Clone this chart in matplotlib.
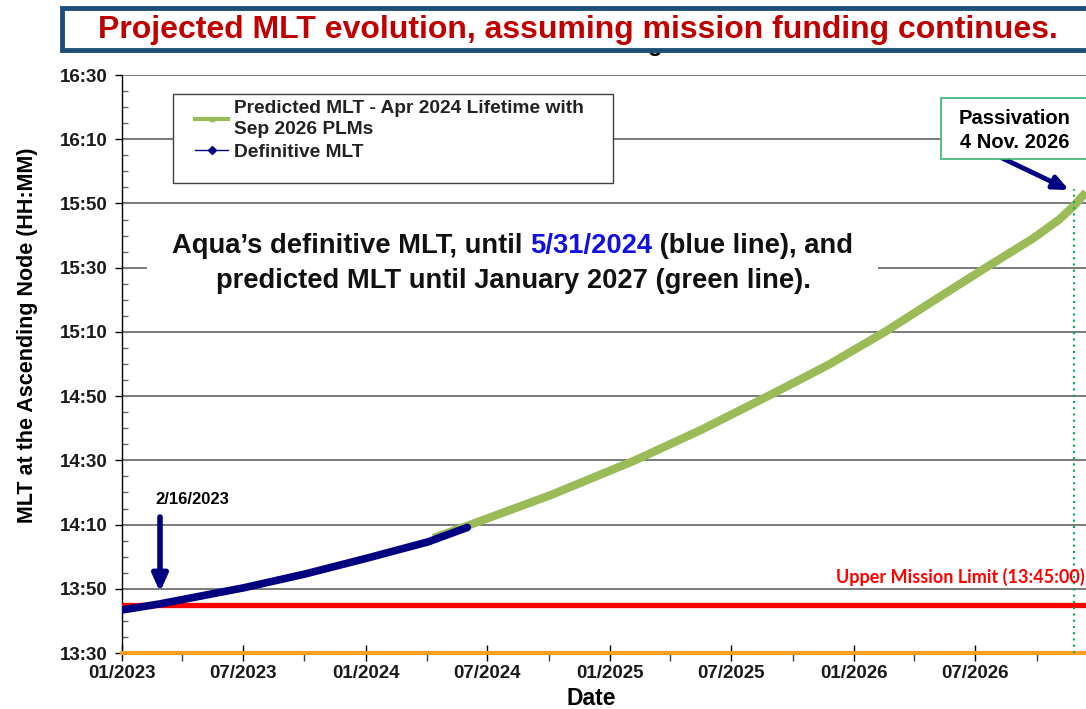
import matplotlib
matplotlib.use('Agg')
import matplotlib.pyplot as plt
import matplotlib.dates as mdates
import matplotlib.ticker as mticker
from matplotlib.lines import Line2D
from matplotlib.patches import Rectangle
import pandas as pd

# MLT values in minutes after midnight
blue_dates = ['2023-01-01', '2023-02-27', '2023-07-02', '2023-10-02', '2024-01-02', '2024-04-03', '2024-06-01']
blue_mlt = [823.4, 825.3, 830.3, 834.6, 839.5, 844.6, 849.1]

green_dates = ['2024-04-11', '2024-06-06', '2024-10-04', '2025-02-07', '2025-05-17', '2025-08-25', '2025-11-23',
               '2026-02-16', '2026-05-02', '2026-07-17', '2026-09-25', '2026-11-04', '2026-11-26', '2026-12-14']
green_mlt = [845.8, 850.0, 859.2, 870.0, 879.5, 890.0, 899.7, 910.0, 920.0, 930.0, 939.0, 945.0, 949.3, 953.5]

upper_limit = 825.0       # 13:45:00
passivation_date = '2026-11-26'
passivation_top = 954.6
x_start, x_end = '2023-01-01', '2026-12-14'
y_min, y_max = 810, 990   # 13:30 .. 16:30

W, H = 1086, 709
def fx(px):
    return px / W
def fy(py):
    return 1 - py / H

BOLD = ['Liberation Sans', 'DejaVu Sans']

fig = plt.figure(figsize=(W / 100, H / 100), dpi=100)
ax = fig.add_axes([fx(122), fy(653), fx(1086) - fx(122), fy(75) - fy(653)])

bd = pd.to_datetime(blue_dates)
gd = pd.to_datetime(green_dates)

ax.set_axisbelow(True)
ax.grid(axis='y', which='major', color='#707070', lw=1.3)
ax.plot(gd, green_mlt, color='#9BBB59', lw=6, solid_capstyle='butt', solid_joinstyle='round', zorder=4)
ax.plot(bd, blue_mlt, color='#000080', lw=5.5, solid_capstyle='round', solid_joinstyle='round', zorder=5)
ax.axhline(upper_limit, color='#FF0000', lw=3.8, zorder=3)
pdate = pd.to_datetime(passivation_date)
ax.plot([pdate, pdate], [y_min, passivation_top], color='#00B050', lw=1.5, ls=(0, (1, 2)), zorder=6, clip_on=False)

ax.set_xlim(pd.to_datetime(x_start), pd.to_datetime(x_end))
ax.set_ylim(y_min, y_max)

ax.yaxis.set_major_locator(mticker.FixedLocator(range(y_min, y_max + 1, 20)))
ax.yaxis.set_minor_locator(mticker.FixedLocator(range(y_min, y_max + 1, 5)))
ax.yaxis.set_major_formatter(mticker.FuncFormatter(lambda v, p: '%d:%02d' % (v // 60, v % 60)))
ax.xaxis.set_major_locator(mdates.MonthLocator(bymonth=[1, 7]))
ax.xaxis.set_minor_locator(mdates.MonthLocator(bymonth=[4, 10]))
ax.xaxis.set_major_formatter(mdates.DateFormatter('%m/%Y'))

for s in ['top', 'right']:
    ax.spines[s].set_visible(False)
ax.spines['left'].set_color('#000000')
ax.spines['left'].set_linewidth(1.0)
ax.spines['bottom'].set_color('#FFA020')
ax.spines['bottom'].set_linewidth(3)
ax.tick_params(axis='y', which='major', direction='out', length=5, width=1, pad=5)
ax.tick_params(axis='y', which='minor', direction='in', length=4, width=1, color='#606060')
ax.tick_params(axis='x', which='major', direction='inout', length=11, width=1, pad=3)
ax.tick_params(axis='x', which='minor', direction='out', length=6, width=1, color='#404040')
for lab in ax.get_xticklabels() + ax.get_yticklabels():
    lab.set_family(BOLD)
    lab.set_fontweight('bold')
    lab.set_fontsize(13.5)
    lab.set_color('#1a1a1a')
ax.set_xlabel('Date', family=BOLD, fontweight='bold', fontsize=16.5)
ax.xaxis.set_label_coords(0.4865, -0.058)
ax.set_ylabel('MLT at the Ascending Node (HH:MM)', family=BOLD, fontweight='bold', fontsize=15.5)
ax.yaxis.set_label_coords(-0.087, 0.55)

# title banner (the tail of a hidden heading peeks out below it)
fig.text(fx(655), fy(44), 'g', family=BOLD, fontweight='bold', fontsize=17, ha='center', va='center', zorder=0.5)
fig.patches.append(Rectangle((fx(62), fy(50)), fx(1100) - fx(62), fy(8) - fy(50), transform=fig.transFigure,
                             facecolor='white', edgecolor='#1F4E79', lw=3.5, zorder=1))
fig.text(fx(578), fy(30), 'Projected MLT evolution, assuming mission funding continues.', family=BOLD,
         fontweight='bold', fontsize=23, color='#C00000', ha='center', va='center', zorder=3)

# legend box
ax.add_patch(Rectangle((fx(173), fy(183)), fx(613) - fx(173), fy(94) - fy(183), transform=fig.transFigure,
                       facecolor='white', edgecolor='#404040', lw=1, zorder=7))
handles = [Line2D([], [], color='#9BBB59', lw=3, marker='^', ms=3),
           Line2D([], [], color='#000080', lw=1, marker='D', ms=4)]
leg = ax.legend(handles, ['Predicted MLT - Apr 2024 Lifetime with\nSep 2026 PLMs', 'Definitive MLT'],
                loc='upper left', bbox_to_anchor=(fx(191), fy(96)), bbox_transform=fig.transFigure,
                frameon=False, prop={'family': BOLD, 'weight': 'bold', 'size': 13.8},
                handlelength=1.75, handletextpad=0.3, labelspacing=0.3, borderaxespad=0, borderpad=0.2)
leg.set_zorder(8)
for t in leg.get_texts():
    t.set_color('#222222')
    t.set_linespacing(1.3)

# explanation text
ax.add_patch(Rectangle((fx(147), fy(300)), fx(878) - fx(147), fy(228) - fy(300), transform=fig.transFigure,
                       facecolor='white', edgecolor='none', zorder=7))
t1 = fig.text(fx(172), fy(246), 'Aqua\u2019s definitive MLT, until ', family=BOLD, fontweight='bold',
              fontsize=19.7, color='#111111', ha='left', va='center', zorder=9)
t2 = ax.annotate('5/31/2024', xy=(1, 0), xycoords=t1, va='bottom', family=BOLD, fontweight='bold',
                 fontsize=19.7, color='#1010E0', zorder=9)
ax.annotate(' (blue line), and', xy=(1, 0), xycoords=t2, va='bottom', family=BOLD, fontweight='bold',
            fontsize=19.7, color='#111111', zorder=9)
fig.text(fx(514), fy(281), 'predicted MLT until January 2027 (green line).', family=BOLD, fontweight='bold',
         fontsize=19.7, color='#111111', ha='center', va='center', zorder=9)

# 2/16/2023 annotation
fig.text(fx(192), fy(499), '2/16/2023', family=BOLD, fontweight='bold', fontsize=12, ha='center', va='center')
ax.annotate('', xy=(fx(160), fy(592)), xytext=(fx(160), fy(517)), xycoords='figure fraction',
            arrowprops=dict(arrowstyle='-|>,head_width=0.45,head_length=1.0', color='#000080', lw=4,
                            shrinkA=0, shrinkB=0))

# passivation box
fig.patches.append(Rectangle((fx(941), fy(159)), fx(1100) - fx(941), fy(98) - fy(159), transform=fig.transFigure,
                             facecolor='white', edgecolor='#3CB371', lw=1.2, zorder=2))
fig.text(fx(1015), fy(118), 'Passivation', family=BOLD, fontweight='bold', fontsize=14.5,
         ha='center', va='center', zorder=9)
fig.text(fx(1015), fy(142), '4 Nov. 2026', family=BOLD, fontweight='bold', fontsize=14.5,
         ha='center', va='center', zorder=9)
ax.annotate('', xy=(fx(1069), fy(190)), xytext=(fx(1002), fy(158)), xycoords='figure fraction',
            arrowprops=dict(arrowstyle='-|>,head_width=0.4,head_length=0.9', color='#000080', lw=3.5,
                            shrinkA=0, shrinkB=0))

# mission limit label
fig.text(fx(1085), fy(577), 'Upper Mission Limit (13:45:00)', family=['Lato', 'DejaVu Sans'], fontweight='bold',
         fontsize=13, color='#FF0000', ha='right', va='center')

fig.savefig('out.png', dpi=100)
